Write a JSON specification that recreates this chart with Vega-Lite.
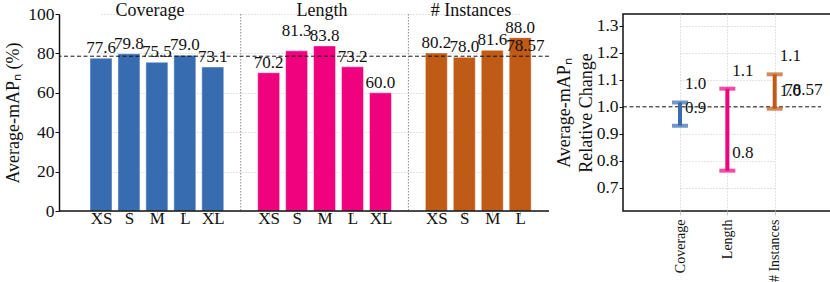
{
  "$schema": "https://vega.github.io/schema/vega-lite/v6.json",
  "padding": {"left": 4, "top": 2, "right": 0, "bottom": 0},
  "background": "white",
  "spacing": 4,
  "config": {
    "font": "Liberation Serif, Times New Roman, serif",
    "view": {"stroke": null},
    "axis": {
      "labelFont": "Liberation Serif, Times New Roman, serif", "titleFont": "Liberation Serif, Times New Roman, serif",
      "labelColor": "#111", "titleColor": "#111", "titleFontWeight": "normal",
      "labelFontSize": 17.5, "titleFontSize": 18,
      "domainColor": "#111", "tickColor": "#111",
      "gridColor": "#c8c8c8", "gridDash": [1, 2], "gridWidth": 1
    },
    "text": {"font": "Liberation Serif, Times New Roman, serif", "color": "#111"}
  },
  "datasets": {
    "bars": [
      {"group": "Coverage", "key": "Coverage XS", "value": 77.6},
      {"group": "Coverage", "key": "Coverage S", "value": 79.8},
      {"group": "Coverage", "key": "Coverage M", "value": 75.5},
      {"group": "Coverage", "key": "Coverage L", "value": 79.0},
      {"group": "Coverage", "key": "Coverage XL", "value": 73.1},
      {"group": "Length", "key": "Length XS", "value": 70.2},
      {"group": "Length", "key": "Length S", "value": 81.3},
      {"group": "Length", "key": "Length M", "value": 83.8},
      {"group": "Length", "key": "Length L", "value": 73.2},
      {"group": "Length", "key": "Length XL", "value": 60.0},
      {"group": "# Instances", "key": "# Instances XS", "value": 80.2},
      {"group": "# Instances", "key": "# Instances S", "value": 78.0},
      {"group": "# Instances", "key": "# Instances M", "value": 81.6},
      {"group": "# Instances", "key": "# Instances L", "value": 88.0}
    ],
    "seps": [{"sep": "sep1"}, {"sep": "sep2"}],
    "mean": [{"mean": 78.57}],
    "rel": [
      {"group": "Coverage", "lo": 0.930, "hi": 1.016},
      {"group": "Length", "lo": 0.764, "hi": 1.067},
      {"group": "# Instances", "lo": 0.993, "hi": 1.120}
    ]
  },
  "hconcat": [
    {
      "width": 490,
      "height": 197,
      "layer": [
        {
          "data": {"name": "seps"},
          "mark": {"type": "rule", "color": "#8a8a8a", "strokeDash": [1.5, 1.5], "strokeWidth": 1},
          "encoding": {
            "x": {"field": "sep", "type": "nominal",
              "scale": {"type": "point", "round": false, "padding": 0, "range": [42, 461.2],
                "domain": ["Coverage XS", "Coverage S", "Coverage M", "Coverage L", "Coverage XL", "sep1", "Length XS", "Length S", "Length M", "Length L", "Length XL", "sep2", "# Instances XS", "# Instances S", "# Instances M", "# Instances L"]}}
          }
        },
        {
          "data": {"name": "bars"},
          "mark": {"type": "bar", "size": 22, "stroke": "white", "strokeWidth": 0.8, "strokeOpacity": 0.6},
          "encoding": {
            "x": {"field": "key", "type": "nominal", "title": null,
              "scale": {"type": "point", "round": false, "padding": 0, "range": [42, 461.2],
                "domain": ["Coverage XS", "Coverage S", "Coverage M", "Coverage L", "Coverage XL", "sep1", "Length XS", "Length S", "Length M", "Length L", "Length XL", "sep2", "# Instances XS", "# Instances S", "# Instances M", "# Instances L"]},
              "axis": {
                "values": ["Coverage XS", "Coverage S", "Coverage M", "Coverage L", "Coverage XL", "Length XS", "Length S", "Length M", "Length L", "Length XL", "# Instances XS", "# Instances S", "# Instances M", "# Instances L"],
                "labelExpr": "slice(datum.value, lastindexof(datum.value, ' ') + 1)",
                "labelAngle": 0, "labelAlign": "center", "labelFontSize": 17, "tickColor": "#c8c8c8", "tickSize": 5,
                "labelPadding": 2, "domain": false, "grid": false
              }},
            "y": {"field": "value", "type": "quantitative",
              "scale": {"domain": [0, 100], "nice": false},
              "axis": {"title": "Average-mAPₙ (%)", "values": [0, 20, 40, 60, 80, 100], "tickCount": 20, "grid": true,
                "tickSize": 4, "labelPadding": 1, "titlePadding": 5, "domainWidth": 1.5}},
            "color": {"field": "group", "type": "nominal", "legend": null,
              "scale": {"domain": ["Coverage", "Length", "# Instances"], "range": ["#386cb0", "#f0027f", "#bf5b17"]}}
          }
        },
        {
          "data": {"name": "bars"},
          "transform": [{"filter": "datum.key != 'Length S'"}],
          "mark": {"type": "text", "fontSize": 17, "baseline": "middle", "dy": -10},
          "encoding": {
            "x": {"field": "key", "type": "nominal"},
            "y": {"field": "value", "type": "quantitative"},
            "text": {"field": "value", "type": "quantitative", "format": ".1f"}
          }
        },
        {
          "data": {"name": "bars"},
          "transform": [{"filter": "datum.key == 'Length S'"}],
          "mark": {"type": "text", "fontSize": 17, "baseline": "middle", "dy": -20},
          "encoding": {
            "x": {"field": "key", "type": "nominal"},
            "y": {"field": "value", "type": "quantitative"},
            "text": {"field": "value", "type": "quantitative", "format": ".1f"}
          }
        },
        {
          "data": {"name": "mean"},
          "mark": {"type": "rule", "color": "#111", "strokeWidth": 1.5},
          "encoding": {"y": {"datum": 0, "type": "quantitative"}}
        },
        {
          "data": {"name": "mean"},
          "mark": {"type": "rule", "color": "#111", "strokeDash": [4, 2.5], "strokeWidth": 1},
          "encoding": {"y": {"field": "mean", "type": "quantitative"}}
        },
        {
          "data": {"name": "mean"},
          "mark": {"type": "text", "fontSize": 17, "baseline": "middle", "align": "left", "dx": -14, "dy": -10},
          "encoding": {
            "x": {"datum": "# Instances L"},
            "y": {"field": "mean", "type": "quantitative"},
            "text": {"field": "mean", "type": "quantitative", "format": ".2f"}
          }
        },
        {
          "data": {"values": [{"title": "Coverage"}]},
          "mark": {"type": "text", "fontSize": 18, "baseline": "alphabetic", "dx": -6.8, "dy": 2},
          "encoding": {"x": {"datum": "Coverage M"}, "y": {"datum": 100}, "text": {"field": "title"}}
        },
        {
          "data": {"values": [{"title": "Length"}]},
          "mark": {"type": "text", "fontSize": 18, "baseline": "alphabetic", "dx": -2.5, "dy": 2},
          "encoding": {"x": {"datum": "Length M"}, "y": {"datum": 100}, "text": {"field": "title"}}
        },
        {
          "data": {"values": [{"title": "# Instances"}]},
          "mark": {"type": "text", "fontSize": 18, "baseline": "alphabetic", "dx": 6.7, "dy": 2},
          "encoding": {"x": {"datum": "# Instances S"}, "y": {"datum": 100}, "text": {"field": "title"}}
        }
      ]
    },
    {
      "width": 209,
      "height": 197,
      "view": {"stroke": "#111", "strokeWidth": 1.5},
      "data": {"name": "rel"},
      "encoding": {
        "x": {"field": "group", "type": "nominal", "title": null,
          "scale": {"type": "point", "round": false, "padding": 0, "range": [57, 151.7], "domain": ["Coverage", "Length", "# Instances"]},
          "axis": {"labelAngle": -90, "labelAlign": "right", "labelBaseline": "middle", "labelFontSize": 14,
            "grid": true, "tickSize": 4, "tickColor": "#c8c8c8", "labelPadding": 4, "domain": false}}
      },
      "layer": [
        {
          "data": {"name": "mean"},
          "mark": {"type": "rule", "color": "#111", "strokeDash": [4, 2.5], "strokeWidth": 1, "xOffset": -57, "x2Offset": 46.3},
          "encoding": {"x": {"datum": "Coverage"}, "x2": {"datum": "# Instances"}, "y": {"datum": 1.0, "type": "quantitative",
            "scale": {"domain": [0.615, 1.343], "nice": false, "zero": false},
            "axis": {"title": ["Average-mAPₙ", "Relative Change"], "values": [0.7, 0.8, 0.9, 1.0, 1.1, 1.2, 1.3], "tickCount": 20, "format": ".1f",
              "grid": true, "tickSize": 4, "labelPadding": 1, "titlePadding": 1, "titleLineHeight": 22, "domain": false}}}
        },
        {
          "mark": {"type": "rule", "strokeWidth": 4},
          "encoding": {
            "y": {"field": "lo", "type": "quantitative"},
            "y2": {"field": "hi"},
            "color": {"field": "group", "type": "nominal", "legend": null,
              "scale": {"domain": ["Coverage", "Length", "# Instances"], "range": ["#386cb0", "#f0027f", "#bf5b17"]}}
          }
        },
        {
          "mark": {"type": "tick", "size": 16, "thickness": 4, "orient": "horizontal"},
          "encoding": {"y": {"field": "lo", "type": "quantitative"}, "color": {"field": "group", "type": "nominal", "legend": null}}
        },
        {
          "mark": {"type": "tick", "size": 16, "thickness": 4, "orient": "horizontal"},
          "encoding": {"y": {"field": "hi", "type": "quantitative"}, "color": {"field": "group", "type": "nominal", "legend": null}}
        },
        {
          "mark": {"type": "text", "fontSize": 17, "align": "left", "baseline": "middle", "dx": 5, "dy": -18},
          "encoding": {"y": {"field": "hi", "type": "quantitative"}, "text": {"field": "hi", "type": "quantitative", "format": ".1f"}}
        },
        {
          "mark": {"type": "text", "fontSize": 17, "align": "left", "baseline": "middle", "dx": 5, "dy": -18},
          "encoding": {"y": {"field": "lo", "type": "quantitative"}, "text": {"field": "lo", "type": "quantitative", "format": ".1f"}}
        },
        {
          "data": {"name": "mean"},
          "mark": {"type": "text", "fontSize": 17, "align": "left", "baseline": "middle", "dx": 9.5, "dy": -17},
          "encoding": {"x": {"datum": "# Instances"}, "y": {"datum": 1.0}, "text": {"field": "mean", "type": "quantitative", "format": ".2f"}}
        }
      ]
    }
  ]
}
